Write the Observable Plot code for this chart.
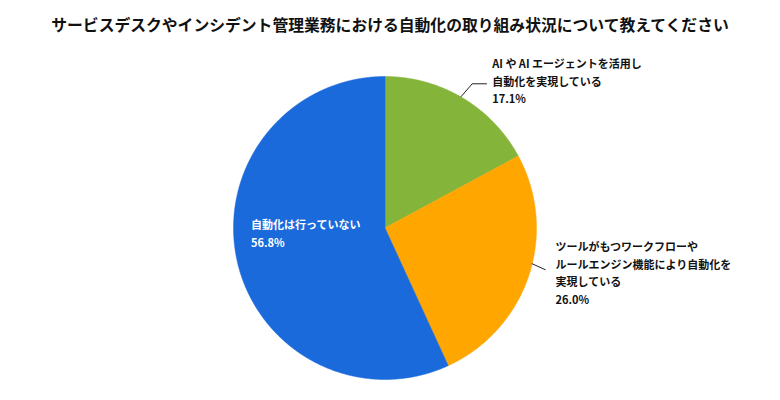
<!DOCTYPE html>
<html><head><meta charset="utf-8">
<script src="https://cdn.jsdelivr.net/npm/d3@7"></script>
<script src="https://cdn.jsdelivr.net/npm/@observablehq/plot@0.6"></script>
<style>
html,body{margin:0;padding:0;background:#fff;}
#wrap{width:780px;height:400px;position:relative;font-family:"Noto Sans CJK JP","Noto Sans",sans-serif;}
#title{height:50px;line-height:50px;text-align:center;font-size:15.8px;font-weight:bold;color:#111;}
svg text{font-family:"Noto Sans CJK JP","Noto Sans",sans-serif;}
</style></head>
<body><div id="wrap"><div id="title"></div><div id="chart"></div></div>
<script>
const title = "サービスデスクやインシデント管理業務における自動化の取り組み状況について教えてください";
const categories = ["AI や AI エージェントを活用し\n自動化を実現している", "ツールがもつワークフローや\nルールエンジン機能により自動化を\n実現している", "自動化は行っていない"];
const values = [17.1, 26.0, 56.8];
const colors = ["#84b53a", "#ffa700", "#1a6adb"];
const labelColors = ["#111", "#111", "#fff"];

document.getElementById("title").textContent = title;

// layout (pixels within the svg)
const W = 780, H = 350, cx = 384.5, cy = 177.5, R = 151.5;
const toU = (px, py) => ({x: (px - cx) / R, y: (cy - py) / R});

const pie = d3.pie().sort(null).value(d => d.v).startAngle(0).endAngle(2 * Math.PI);
const arcs = pie(categories.map((c, i) => ({c, v: values[i], i})));

function slicePts(a) {
  const pts = [{x: 0, y: 0}];
  const n = Math.max(2, Math.ceil((a.endAngle - a.startAngle) / 0.005));
  for (let k = 0; k <= n; k++) {
    const t = a.startAngle + (a.endAngle - a.startAngle) * k / n;
    pts.push({x: Math.sin(t), y: Math.cos(t)});
  }
  pts.push({x: 0, y: 0});
  return pts;
}

// label anchors (pixel layout -> unit coords)
const labelPos = [toU(491.7, 12), toU(555, 195), toU(250.5, 173)];
const leaders = [
  [toU(460.7, 46), toU(471.7, 33.3), toU(486, 33.3)],
  [toU(531.7, 213.3), toU(544.8, 219.2)],
  null
];

const marks = [];
arcs.forEach((a, i) => {
  marks.push(Plot.line(slicePts(a), {x: "x", y: "y", fill: colors[i], stroke: colors[i], strokeWidth: 0.5, curve: "linear"}));
});
leaders.forEach(l => { if (l) marks.push(Plot.line(l, {x: "x", y: "y", stroke: "#222", strokeWidth: 1})); });
arcs.forEach((a, i) => {
  const txt = categories[i] + "\n" + values[i].toFixed(1) + "%";
  marks.push(Plot.text([labelPos[i]], {x: "x", y: "y", text: () => txt, textAnchor: "start", lineAnchor: "top",
    lineHeight: 1.6, fontSize: 11, fontWeight: "bold", fill: labelColors[i], dy: -7}));
});

const chart = Plot.plot({
  width: W, height: H,
  margin: 0,
  x: {domain: [-1, 1], range: [cx - R, cx + R], axis: null},
  y: {domain: [-1, 1], range: [cy + R, cy - R], axis: null},
  style: {background: "transparent", overflow: "visible"},
  marks
});
document.getElementById("chart").appendChild(chart);
</script>
</body></html>
